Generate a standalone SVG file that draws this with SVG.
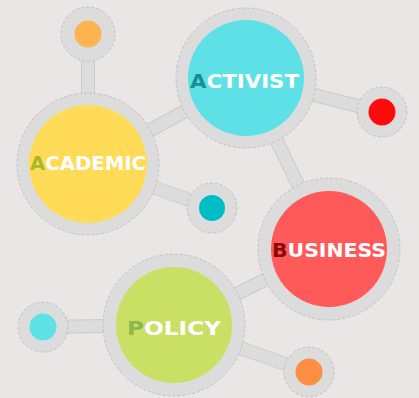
<svg xmlns="http://www.w3.org/2000/svg" width="419" height="398" viewBox="0 0 419 398">
<style>
.edge{stroke:#cbcbcb;stroke-width:14}
.edgeF{stroke:#dcdcdc;stroke-width:12}
.ring{fill:#dcdcdc;stroke:#c2c2c2;stroke-width:1;stroke-dasharray:3 2}
.lbl{font-family:"DejaVu Sans","Liberation Sans",sans-serif;font-weight:bold;fill:#ffffff;font-size:20px}
</style>
<rect width="419" height="398" fill="#e9e6e5"/>
<g id="connectors">
<line class="edge" x1="88" y1="34" x2="88" y2="164"/>
<line class="edge" x1="88" y1="164" x2="246" y2="78"/>
<line class="edge" x1="88" y1="164" x2="212" y2="208"/>
<line class="edge" x1="246" y1="78" x2="382" y2="112"/>
<line class="edge" x1="246" y1="78" x2="329" y2="248"/>
<line class="edge" x1="329" y1="248" x2="174" y2="325"/>
<line class="edge" x1="174" y1="325" x2="43" y2="327"/>
<line class="edge" x1="174" y1="325" x2="309" y2="372"/>
<line class="edgeF" x1="88" y1="34" x2="88" y2="164"/>
<line class="edgeF" x1="88" y1="164" x2="246" y2="78"/>
<line class="edgeF" x1="88" y1="164" x2="212" y2="208"/>
<line class="edgeF" x1="246" y1="78" x2="382" y2="112"/>
<line class="edgeF" x1="246" y1="78" x2="329" y2="248"/>
<line class="edgeF" x1="329" y1="248" x2="174" y2="325"/>
<line class="edgeF" x1="174" y1="325" x2="43" y2="327"/>
<line class="edgeF" x1="174" y1="325" x2="309" y2="372"/>
</g>
<g id="dot-top">
<circle class="ring" cx="88" cy="34" r="27"/>
<circle cx="88" cy="34" r="13.5" fill="#ffb54f"/>
</g>
<g id="dot-red">
<circle class="ring" cx="382" cy="112" r="25"/>
<circle cx="382" cy="112" r="13.5" fill="#ff0b0b"/>
</g>
<g id="dot-teal">
<circle class="ring" cx="212" cy="208" r="25"/>
<circle cx="212" cy="208" r="13" fill="#00bcc6"/>
</g>
<g id="dot-lightblue">
<circle class="ring" cx="43" cy="327" r="25"/>
<circle cx="43" cy="327" r="13.5" fill="#5de1e6"/>
</g>
<g id="dot-orange">
<circle class="ring" cx="309" cy="372" r="25"/>
<circle cx="309" cy="372" r="13.5" fill="#ff8e45"/>
</g>
<g id="activist">
<circle class="ring" cx="246" cy="78" r="70"/>
<circle cx="246" cy="78" r="58" fill="#5de1e6"/>
<text class="lbl" x="190" y="88" textLength="109" lengthAdjust="spacingAndGlyphs"><tspan fill="#178e94">A</tspan>CTIVIST</text>
</g>
<g id="academic">
<circle class="ring" cx="88" cy="164" r="71"/>
<circle cx="88" cy="164" r="59" fill="#ffdb57"/>
<text class="lbl" x="30" y="170" textLength="116" lengthAdjust="spacingAndGlyphs"><tspan fill="#a9b826">A</tspan>CADEMIC</text>
</g>
<g id="business">
<circle class="ring" cx="329" cy="249" r="71"/>
<circle cx="329" cy="249" r="58" fill="#ff5a5a"/>
<text class="lbl" x="272" y="257" textLength="114" lengthAdjust="spacingAndGlyphs"><tspan fill="#8a0a0a">B</tspan>USINESS</text>
</g>
<g id="policy">
<circle class="ring" cx="174" cy="325" r="71"/>
<circle cx="174" cy="325" r="58" fill="#c9e064"/>
<text class="lbl" x="127" y="335" textLength="94" lengthAdjust="spacingAndGlyphs"><tspan fill="#8db84f">P</tspan>OLICY</text>
</g>
</svg>
